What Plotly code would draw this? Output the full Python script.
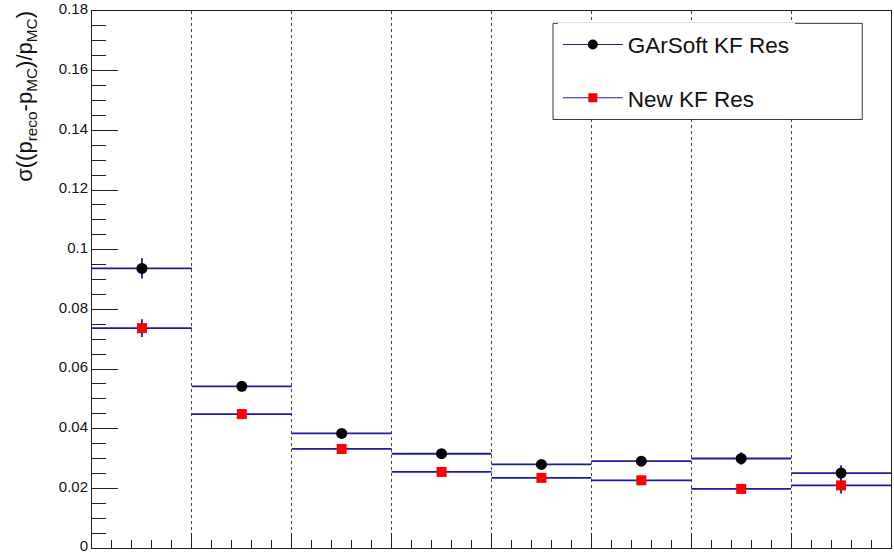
import plotly.graph_objects as go

# Bin centres (eight momentum bins, index units) and half-widths
bin_centres = [0.5, 1.5, 2.5, 3.5, 4.5, 5.5, 6.5, 7.5]
bin_halfwidth = [0.5] * 8

# Momentum resolution per bin
garsoft_res = [0.0937, 0.0542, 0.0384, 0.0316, 0.0280, 0.0291, 0.0300, 0.0251]
garsoft_err = [0.0034, 0.0017, 0.0012, 0.0012, 0.0010, 0.0012, 0.0021, 0.0026]
newkf_res = [0.0737, 0.0449, 0.0332, 0.0255, 0.0235, 0.0227, 0.0198, 0.0210]
newkf_err = [0.0030, 0.0012, 0.0010, 0.0009, 0.0009, 0.0009, 0.0010, 0.0027]

y_tickvals = [0, 0.02, 0.04, 0.06, 0.08, 0.1, 0.12, 0.14, 0.16, 0.18]
y_ticktext = ["0", "0.02", "0.04", "0.06", "0.08", "0.1", "0.12", "0.14", "0.16", "0.18"]

BAR_BLUE = "#1c1c9c"
FONT = "Liberation Sans, Arial, Helvetica, sans-serif"

fig = go.Figure()


def add_series(y, err, name, symbol, color, size, lsize):
    fig.add_trace(go.Scatter(
        x=bin_centres, y=y, mode="markers", showlegend=False,
        marker=dict(symbol=symbol, color=color, size=size, line=dict(width=0)),
        error_x=dict(type="data", array=bin_halfwidth, color=BAR_BLUE,
                     thickness=1.8, width=0),
        error_y=dict(type="data", array=err, color=BAR_BLUE,
                     thickness=1.8, width=0),
    ))
    # legend entry: line + marker
    fig.add_trace(go.Scatter(
        x=[None], y=[None], mode="lines+markers", name=name,
        legendgroup=name,
        line=dict(color=BAR_BLUE, width=1.2),
        marker=dict(symbol=symbol, color=color, size=lsize, line=dict(width=0)),
    ))


add_series(garsoft_res, garsoft_err, "GArSoft KF Res", "circle", "black", 11, 10)
add_series(newkf_res, newkf_err, "New KF Res", "square", "#ff0000", 10, 9)

fig.update_xaxes(
    range=[0, 8], showticklabels=False, automargin=False,
    showline=True, linecolor="#222", linewidth=1, mirror=True,
    ticks="inside", tickmode="linear", tick0=0, dtick=1, ticklen=15,
    tickcolor="#222", tickwidth=1,
    minor=dict(ticks="inside", dtick=0.2, ticklen=8, tickcolor="#222",
               showgrid=False),
    showgrid=True, gridcolor="#444", gridwidth=1, griddash="dot",
    zeroline=False,
)
fig.update_yaxes(
    range=[0, 0.18], automargin=False,
    showline=True, linecolor="#222", linewidth=1, mirror=True,
    ticks="inside", tickvals=y_tickvals, ticktext=y_ticktext, ticklen=26,
    tickcolor="#222", tickwidth=1, ticklabeloverflow="allow",
    ticklabelshift=-2,
    minor=dict(ticks="inside", dtick=0.005, tick0=0, ticklen=14,
               tickcolor="#222", showgrid=False),
    showgrid=False, zeroline=False,
    tickfont=dict(family=FONT, size=15, color="#111"),
)

fig.add_annotation(
    xref="paper", yref="paper", x=-0.082, y=1.004,
    xanchor="center", yanchor="top", textangle=-90, showarrow=False,
    text="σ((p<sub>reco</sub>-p<sub>MC</sub>)/p<sub>MC</sub>)",
    font=dict(family=FONT, size=22, color="#111"),
)

# legend frame
fig.add_shape(
    type="rect", xref="paper", yref="paper",
    x0=0.577, x1=0.964, y0=0.798, y1=0.977,
    line=dict(color="#333", width=1), fillcolor="rgba(0,0,0,0)",
)

fig.update_layout(
    width=894, height=554,
    margin=dict(l=92, r=3, t=11, b=6, autoexpand=False),
    paper_bgcolor="white", plot_bgcolor="white",
    font=dict(family=FONT, color="#111"),
    legend=dict(
        x=0.583, y=0.977, xanchor="left", yanchor="top",
        bgcolor="white", borderwidth=0,
        font=dict(family=FONT, size=22.5, color="#111"),
        tracegroupgap=21, itemwidth=60,
    ),
)

fig.write_html("out.html")
